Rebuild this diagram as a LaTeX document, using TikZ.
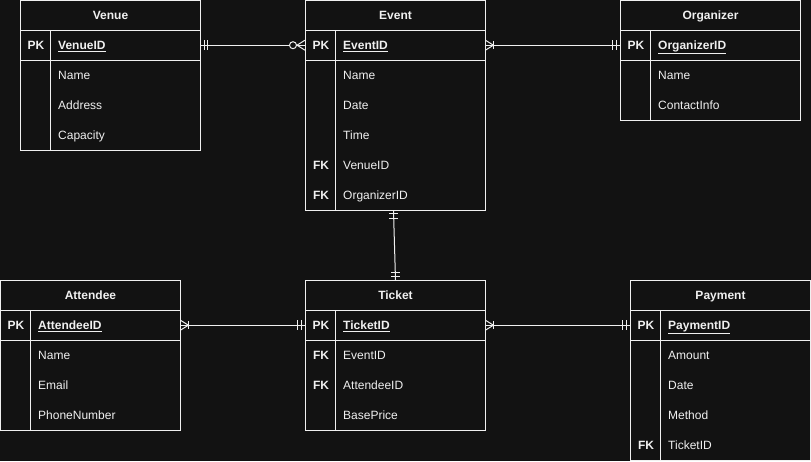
\documentclass[tikz,border=0pt]{standalone}
\usepackage{fontspec}
\setmainfont{Liberation Sans}
\definecolor{bg}{HTML}{121212}
\definecolor{fg}{HTML}{F0F0F0}
\newcommand\twelve{\fontsize{12}{14}\selectfont}
\tikzset{
  ln/.style={draw=fg, line width=1pt},
  frame/.style={draw=fg, line width=1pt, minimum width=180pt, inner sep=0pt},
  rowbox/.style={minimum width=180pt, minimum height=30pt, inner sep=0pt},
  ttl/.style={font=\twelve\bfseries, text=fg, inner sep=0pt, anchor=base},
  keytxt/.style={font=\twelve\bfseries, text=fg, inner sep=0pt, anchor=base},
  fld/.style={font=\twelve, text=fg, inner sep=0pt, anchor=base west},
}
\newcommand\ertable[6]{%
  \node[frame, minimum height={(#4+1)*30pt}, anchor=north west] (#1) at (#2,#3) {};
  \node[ttl] (#1-t) at ([yshift=-19.3pt]#1.north) {#5};
  \draw[ln] ([yshift=-30pt]#1.north west) -- ([yshift=-30pt]#1.north east);
  \draw[ln] ([yshift=-60pt]#1.north west) -- ([yshift=-60pt]#1.north east);
  \draw[ln] ([yshift=-30pt,xshift=30pt]#1.north west) -- ([xshift=30pt]#1.south west);
  \foreach[count=\i] \k/\f in {#6} {
    \node[rowbox, anchor=north west] (#1-\i) at ([yshift={-30pt*\i}]#1.north west) {};
    \node[keytxt] (#1-k\i) at ([xshift=16pt,yshift=-4.3pt]#1-\i.west) {\k};
    \node[fld] (#1-f\i) at ([xshift=38pt,yshift=-4.3pt]#1-\i.west) {\f};
  }
}
\begin{document}
\begin{tikzpicture}[x=1pt,y=-1pt,font=\twelve]
\fill[bg] (0,0) rectangle (811,461);
\useasboundingbox (0,0) rectangle (811,461);

\ertable{venue}{20}{0}{4}{Venue}{PK/\textbf{\underline{VenueID}}, /Name, /Address, /Capacity}
\ertable{event}{305}{0}{6}{Event}{PK/\textbf{\underline{EventID}}, /Name, /Date, /Time, FK/VenueID, FK/OrganizerID}
\ertable{organizer}{620}{0}{3}{Organizer}{PK/\textbf{\underline{OrganizerID}}, /Name, /ContactInfo}
\ertable{attendee}{0}{280}{4}{Attendee}{PK/\textbf{\underline{AttendeeID}}, /Name, /Email, /PhoneNumber}
\ertable{ticket}{305}{280}{4}{Ticket}{PK/\textbf{\underline{TicketID}}, FK/EventID, FK/AttendeeID, /BasePrice}
\ertable{payment}{630}{280}{5}{Payment}{PK/\textbf{\underline{PaymentID}}, /Amount, /Date, /Method, FK/TicketID}

% Venue -- Event (one mandatory to zero-or-many)
\draw[ln] (venue-1.east) -- (event-1.west);
\draw[ln] ([xshift=4pt,yshift=5pt]venue-1.east) -- ([xshift=4pt,yshift=-5pt]venue-1.east);
\draw[ln] ([xshift=7.5pt,yshift=5pt]venue-1.east) -- ([xshift=7.5pt,yshift=-5pt]venue-1.east);
\draw[ln] ([yshift=5pt]event-1.west) -- ([xshift=-8pt]event-1.west) -- ([yshift=-5pt]event-1.west);
\draw[ln, fill=bg] ([xshift=-12pt]event-1.west) circle (3.5pt);

% Event -- Organizer
\draw[ln] (event-1.east) -- (organizer-1.west);
\draw[ln] ([yshift=5pt]event-1.east) -- ([xshift=8pt]event-1.east) -- ([yshift=-5pt]event-1.east);
\draw[ln] ([xshift=8pt,yshift=4pt]event-1.east) -- ([xshift=8pt,yshift=-4pt]event-1.east);
\draw[ln] ([xshift=-4pt,yshift=5pt]organizer-1.west) -- ([xshift=-4pt,yshift=-5pt]organizer-1.west);
\draw[ln] ([xshift=-8pt,yshift=5pt]organizer-1.west) -- ([xshift=-8pt,yshift=-5pt]organizer-1.west);

% Event -- Ticket
\coordinate (etTop) at ([xshift=-2pt]event.south);
\coordinate (etBot) at (ticket.north);
\draw[ln] (etTop) -- (etBot);
\draw[ln] ([xshift=-4.5pt,yshift=-2.5pt]etTop) -- ([xshift=4.5pt,yshift=-2.5pt]etTop);
\draw[ln] ([xshift=-4.5pt,yshift=-7pt]etTop) -- ([xshift=4.5pt,yshift=-7pt]etTop);
\draw[ln] ([xshift=-4.5pt,yshift=4pt]etBot) -- ([xshift=4.5pt,yshift=4pt]etBot);
\draw[ln] ([xshift=-4.5pt,yshift=8pt]etBot) -- ([xshift=4.5pt,yshift=8pt]etBot);

% Attendee -- Ticket
\draw[ln] (attendee-1.east) -- (ticket-1.west);
\draw[ln] ([yshift=5pt]attendee-1.east) -- ([xshift=8pt]attendee-1.east) -- ([yshift=-5pt]attendee-1.east);
\draw[ln] ([xshift=8pt,yshift=4pt]attendee-1.east) -- ([xshift=8pt,yshift=-4pt]attendee-1.east);
\draw[ln] ([xshift=-3.5pt,yshift=5pt]ticket-1.west) -- ([xshift=-3.5pt,yshift=-5pt]ticket-1.west);
\draw[ln] ([xshift=-7.5pt,yshift=5pt]ticket-1.west) -- ([xshift=-7.5pt,yshift=-5pt]ticket-1.west);

% Ticket -- Payment
\draw[ln] (ticket-1.east) -- (payment-1.west);
\draw[ln] ([yshift=5pt]ticket-1.east) -- ([xshift=8pt]ticket-1.east) -- ([yshift=-5pt]ticket-1.east);
\draw[ln] ([xshift=8pt,yshift=4pt]ticket-1.east) -- ([xshift=8pt,yshift=-4pt]ticket-1.east);
\draw[ln] ([xshift=-4pt,yshift=5pt]payment-1.west) -- ([xshift=-4pt,yshift=-5pt]payment-1.west);
\draw[ln] ([xshift=-7.5pt,yshift=5pt]payment-1.west) -- ([xshift=-7.5pt,yshift=-5pt]payment-1.west);
\end{tikzpicture}
\end{document}
